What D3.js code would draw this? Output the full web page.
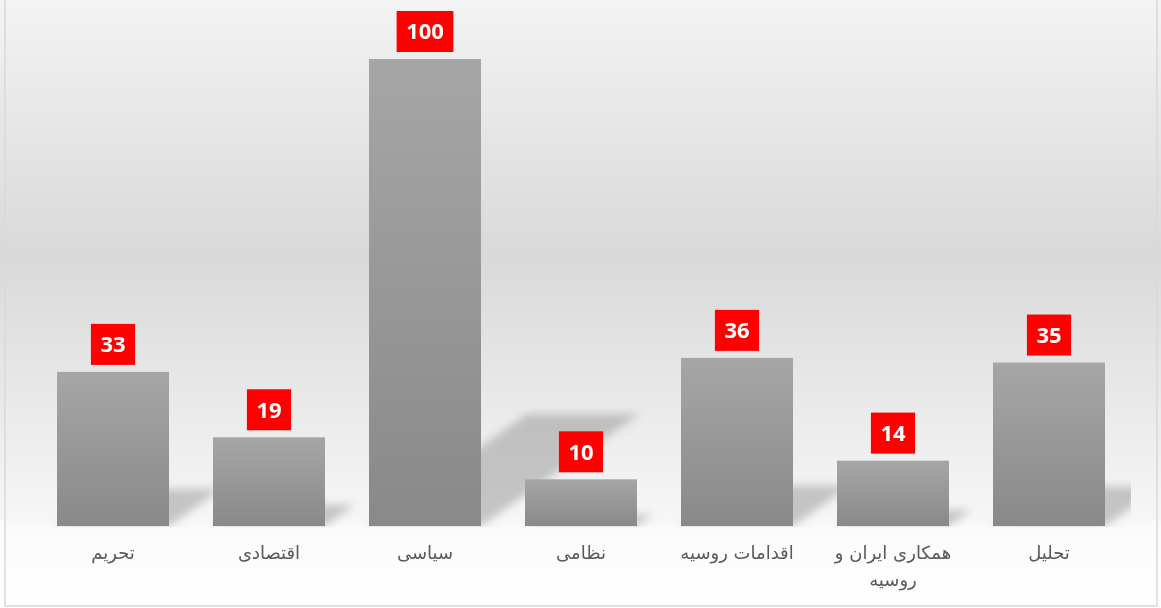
<!DOCTYPE html>
<html>
<head>
<meta charset="utf-8">
<script src="https://cdn.jsdelivr.net/npm/d3@7"></script>
<style>
  body { margin: 0; background: #fff; }
</style>
</head>
<body>
<div id="chart-area"></div>
<script>
const categories = ["تحریم", "اقتصادی", "سیاسی", "نظامی", "اقدامات روسیه", "همکاری ایران و روسیه", "تحلیل"]
const counts = [33, 19, 100, 10, 36, 14, 35]

const W = 1161
const H = 608
const MARGIN = { LEFT: 35, RIGHT: 34, TOP: 59, BOTTOM: 82 }
const BASE = H - MARGIN.BOTTOM

const svg = d3.select("#chart-area").append("svg")
  .attr("width", W)
  .attr("height", H)

const defs = svg.append("defs")

// background gradient
const bg = defs.append("linearGradient").attr("id", "bg")
  .attr("x1", 0).attr("y1", 0).attr("x2", 0).attr("y2", 1)
bg.append("stop").attr("offset", 0).attr("stop-color", "#f3f3f3")
bg.append("stop").attr("offset", 0.42).attr("stop-color", "#d9d9d9")
bg.append("stop").attr("offset", 0.85).attr("stop-color", "#f6f6f6")
bg.append("stop").attr("offset", 0.875).attr("stop-color", "#fbfbfb")
bg.append("stop").attr("offset", 1).attr("stop-color", "#ffffff")

// bar gradient
const bar = defs.append("linearGradient").attr("id", "bar")
  .attr("x1", 0).attr("y1", 0).attr("x2", 0).attr("y2", 1)
bar.append("stop").attr("offset", 0).attr("stop-color", "#a6a6a6")
bar.append("stop").attr("offset", 1).attr("stop-color", "#898989")

defs.append("filter").attr("id", "blur")
  .attr("x", "-30%").attr("y", "-30%").attr("width", "160%").attr("height", "160%")
  .append("feGaussianBlur").attr("stdDeviation", 4.5)

defs.append("clipPath").attr("id", "plotclip")
  .append("rect").attr("x", 0).attr("y", 0).attr("width", 1131).attr("height", BASE + 1)

svg.append("rect")
  .attr("x", 0).attr("y", 0).attr("width", W).attr("height", H)
  .attr("fill", "url(#bg)")

svg.append("rect")
  .attr("x", 5).attr("y", -5).attr("width", 1152).attr("height", 611)
  .attr("fill", "none").attr("stroke", "#d9d9d9").attr("stroke-width", 1.5)

const x = d3.scaleBand()
  .domain(categories)
  .range([MARGIN.LEFT, W - MARGIN.RIGHT])
  .paddingInner(0.282)
  .paddingOuter(0.141)

const y = d3.scaleLinear()
  .domain([0, 100])
  .range([BASE, MARGIN.TOP])

const data = categories.map((c, i) => ({ cat: c, value: counts[i] }))

// perspective shadows: bar squashed and skewed to the upper right
const SQUASH = 0.24
const SLANT = 1.41
function shadowPath(d) {
  const x0 = x(d.cat)
  const w = x.bandwidth()
  const sh = (BASE - y(d.value)) * SQUASH
  const s = sh * SLANT
  return `M${x0},${BASE}L${x0 + w},${BASE}L${x0 + w + s},${BASE - sh}L${x0 + s},${BASE - sh}Z`
}

const shadows = svg.append("g").attr("clip-path", "url(#plotclip)")
  .append("g").attr("filter", "url(#blur)")
shadows.selectAll("path")
  .data(data)
  .enter().append("path")
    .attr("d", shadowPath)
    .attr("fill", "#8a8a8a")
    .attr("opacity", 0.45)

// bars
svg.selectAll("rect.bar")
  .data(data)
  .enter().append("rect")
    .attr("class", "bar")
    .attr("x", d => x(d.cat))
    .attr("y", d => y(d.value))
    .attr("width", x.bandwidth())
    .attr("height", d => BASE - y(d.value))
    .attr("fill", "url(#bar)")

// value labels
const labels = svg.selectAll("g.lbl")
  .data(data)
  .enter().append("g")
    .attr("class", "lbl")

labels.append("rect").attr("fill", "#ff0000")
labels.append("text")
  .attr("x", d => x(d.cat) + x.bandwidth() / 2)
  .attr("y", d => y(d.value) - 27.5)
  .attr("dy", "0.36em")
  .attr("text-anchor", "middle")
  .attr("font-family", "'Open Sans', sans-serif")
  .attr("font-weight", "bold")
  .attr("font-size", "22px")
  .attr("fill", "#fff")
  .text(d => d.value)

labels.each(function(d) {
  const g = d3.select(this)
  const tw = g.select("text").node().getComputedTextLength()
  const bw = tw + 19
  g.select("rect")
    .attr("x", x(d.cat) + x.bandwidth() / 2 - bw / 2)
    .attr("y", y(d.value) - 48)
    .attr("width", bw)
    .attr("height", 41)
})

// category labels
const catText = svg.selectAll("text.cat")
  .data(data)
  .enter().append("text")
    .attr("class", "cat")
    .attr("x", d => x(d.cat) + x.bandwidth() / 2)
    .attr("y", 559)
    .attr("text-anchor", "middle")
    .attr("direction", "rtl")
    .attr("font-family", "'DejaVu Sans', sans-serif")
    .attr("font-size", "18px")
    .attr("fill", "#595959")
    .text(d => d.cat)

catText.each(function(d) {
  const t = d3.select(this)
  const words = d.cat.split(" ")
  const cx = x(d.cat) + x.bandwidth() / 2
  t.text(null)
  let line = []
  let lines = []
  const probe = t.append("tspan")
  words.forEach(w => {
    const test = line.concat([w]).join(" ")
    probe.text(test)
    if (probe.node().getComputedTextLength() > 150 && line.length) {
      lines.push(line.join(" "))
      line = [w]
    } else {
      line.push(w)
    }
  })
  lines.push(line.join(" "))
  probe.remove()
  lines.forEach((l, i) => {
    t.append("tspan").attr("x", cx).attr("dy", i ? 27 : 0).text(l)
  })
})
</script>
</body>
</html>
